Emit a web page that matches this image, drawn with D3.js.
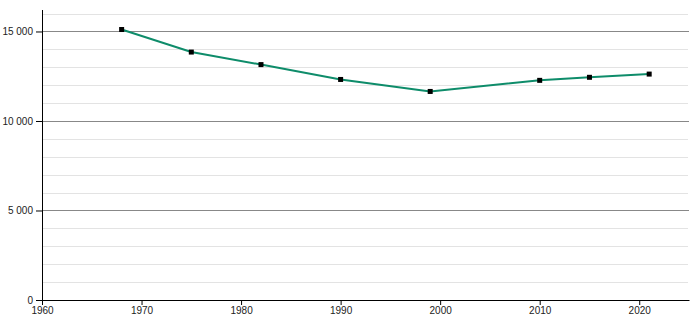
<!DOCTYPE html>
<html>
<head>
<meta charset="utf-8">
<script src="https://cdn.jsdelivr.net/npm/d3@7"></script>
<style>
  body { margin: 0; background: #fff; }
  svg { display: block; font-family: "Liberation Sans", Arial, sans-serif; }
</style>
</head>
<body>
<svg id="chart"></svg>
<script>
// data
const years = [1968, 1975, 1982, 1990, 1999, 2010, 2015, 2021];
const population = [15110, 13850, 13150, 12320, 11650, 12270, 12440, 12620];
const xTickYears = [1960, 1970, 1980, 1990, 2000, 2010, 2020];
const yMajorTicks = [0, 5000, 10000, 15000];
const yMinorTicks = [1000, 2000, 3000, 4000, 6000, 7000, 8000, 9000, 11000, 12000, 13000, 14000, 16000];

const width = 700;
const height = 320;
const marge = { top: 10, bottom: 20, left: 42, right: 11 };

const svg = d3.select("#chart").attr("width", width).attr("height", height);

const xScale = d3.scaleLinear()
  .domain([1960, 2025])
  .range([marge.left, width - marge.right]);
const yScale = d3.scaleLinear()
  .domain([0, 16200])
  .range([height - marge.bottom, marge.top]);

const fmt = v => d3.format(",")(v).replace(/,/g, " ");

// gridlines
svg.append("g").selectAll("line")
  .data(yMinorTicks)
  .enter().append("line")
  .attr("x1", marge.left).attr("x2", width - marge.right - 1)
  .attr("y1", d => Math.round(yScale(d)) + 0.5)
  .attr("y2", d => Math.round(yScale(d)) + 0.5)
  .attr("stroke", "#e3e3e3");
svg.append("g").selectAll("line")
  .data(yMajorTicks.filter(d => d > 0))
  .enter().append("line")
  .attr("x1", marge.left).attr("x2", width - marge.right)
  .attr("y1", d => Math.round(yScale(d)) + 0.5)
  .attr("y2", d => Math.round(yScale(d)) + 0.5)
  .attr("stroke", "#888");

// y axis
const gay = svg.append("g").attr("transform", `translate(${marge.left},0)`);
gay.call(d3.axisLeft(yScale).tickValues(yMinorTicks).tickSize(3).tickFormat(""));
gay.call(d3.axisLeft(yScale).tickValues(yMajorTicks).tickSize(6).tickFormat(fmt));
gay.selectAll("text").attr("font-size", 10).attr("font-family", "Liberation Sans, Arial, sans-serif").attr("fill", "#222");
gay.selectAll(".domain").remove();
gay.append("line")
  .attr("x1", 0.5).attr("x2", 0.5)
  .attr("y1", marge.top).attr("y2", yScale(0))
  .attr("stroke", "#000");

// x axis
const gax = svg.append("g").attr("transform", `translate(0,${Math.round(yScale(0))})`);
gax.call(d3.axisBottom(xScale).tickValues(xTickYears).tickSize(5).tickFormat(d3.format("d")).tickSizeOuter(0));
gax.selectAll("text").attr("font-size", 10).attr("font-family", "Liberation Sans, Arial, sans-serif").attr("fill", "#222").attr("dy", "0.55em");

// line
const line = d3.line()
  .x((d, i) => xScale(years[i]))
  .y(d => yScale(d));
svg.append("path")
  .datum(population)
  .attr("fill", "none")
  .attr("stroke", "#0e8c6a")
  .attr("stroke-width", 2)
  .attr("d", line);

// markers
svg.append("g").selectAll("rect")
  .data(population)
  .enter().append("rect")
  .attr("x", (d, i) => xScale(years[i]) - 2.5)
  .attr("y", d => yScale(d) - 2.5)
  .attr("width", 5)
  .attr("height", 5)
  .attr("fill", "#000");
</script>
</body>
</html>
